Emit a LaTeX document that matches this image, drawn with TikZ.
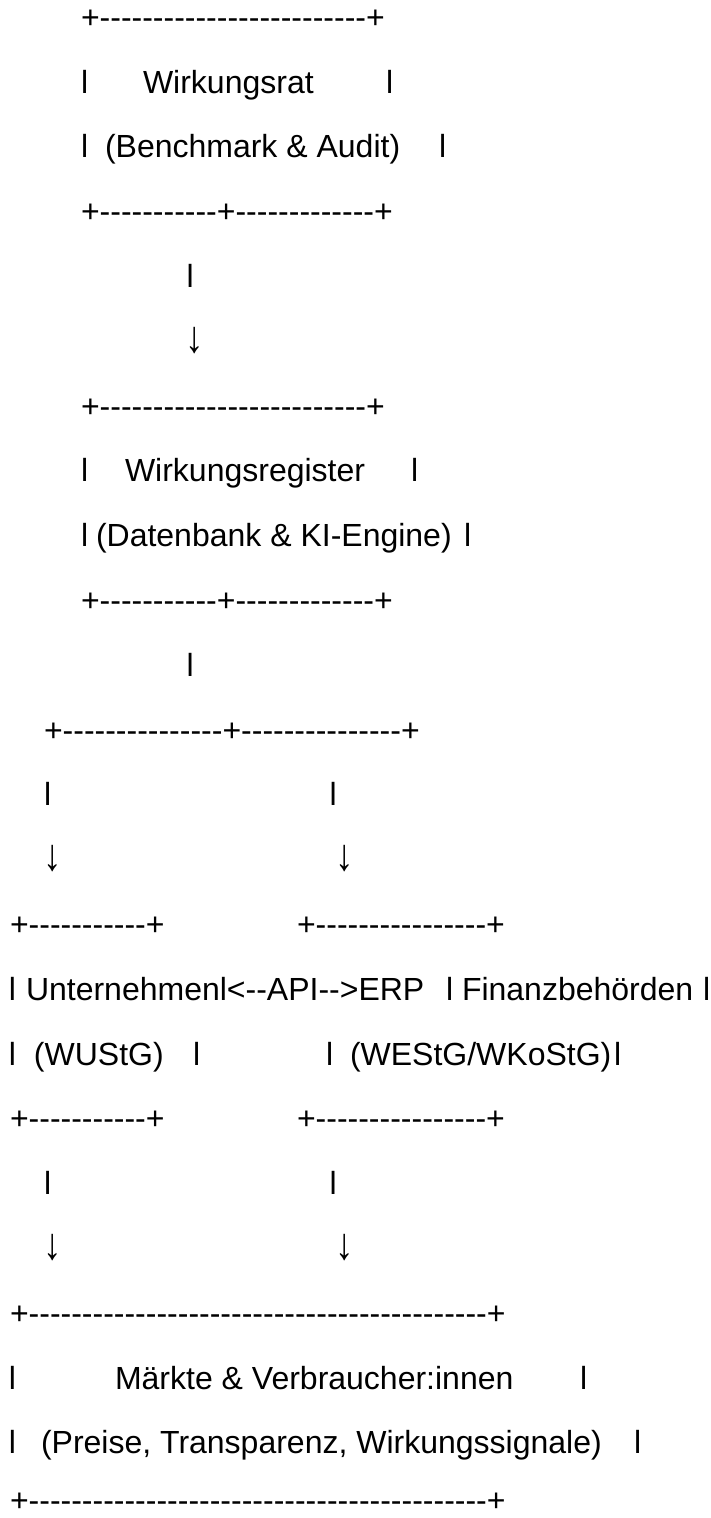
\documentclass[tikz,border=0pt]{standalone}
\usepackage{fontspec}
\newfontfamily\asc{Liberation Sans}
\ExplSyntaxOn
\NewDocumentCommand\dsh{m}{\prg_replicate:nn{#1}{-}}
\ExplSyntaxOff
\newcommand\darr{\scalebox{1.15}[1.4]{↓}}
\tikzset{
  tx/.style={anchor=base west, inner sep=0pt, outer sep=0pt, font=\asc\fontsize{32}{38}\selectfont, text=black},
  tc/.style={anchor=base, inner sep=0pt, outer sep=0pt, font=\asc\fontsize{32}{38}\selectfont, text=black}
}
\begin{document}
\begin{tikzpicture}[x=1pt,y=-1pt]
\useasboundingbox (0,0) rectangle (711,1518);
\fill[white] (0,0) rectangle (711,1518);
% Wirkungsrat box
\node[tx] (r1) at (81,28.3) {+\dsh{25}+};
\node[tx] (r2a) at (81,93.1) {l};
\node[tx] (r2b) at (143,93.1) {Wirkungsrat};
\node[tx] (r2c) at (386,93.1) {l};
\node[tx] (r3a) at (81,157.9) {l};
\node[tx] (r3b) at (105,157.9) {(Benchmark \& Audit)};
\node[tx] (r3c) at (439,157.9) {l};
\node[tx] (r4) at (81,222.7) {+\dsh{11}+\dsh{13}+};
\node[tx] (r5) at (186.5,287.5) {l};
\node[tc] (r6) at (194.5,352.3) {\darr};
% Wirkungsregister box
\node[tx] (g1) at (81,417.1) {+\dsh{25}+};
\node[tx] (g2a) at (81,481.9) {l};
\node[tx] (g2b) at (125,481.9) {Wirkungsregister};
\node[tx] (g2c) at (411,481.9) {l};
\node[tx] (g3a) at (81,546.7) {l};
\node[tx] (g3b) at (96,546.7) {(Datenbank \& KI-Engine)};
\node[tx] (g3c) at (464,546.7) {l};
\node[tx] (g4) at (81,611.5) {+\dsh{11}+\dsh{13}+};
\node[tx] (g5) at (186.5,676.3) {l};
% split
\node[tx] (s1) at (44,741.1) {+\dsh{15}+\dsh{15}+};
\node[tx] (s2a) at (44,805.9) {l};
\node[tx] (s2b) at (329.5,805.9) {l};
\node[tc] (s3a) at (52.3,870.7) {\darr};
\node[tc] (s3b) at (344.5,870.7) {\darr};
% Unternehmen / Finanzbehoerden boxes
\node[tx] (u1a) at (10,935.5) {+\dsh{11}+};
\node[tx] (u1b) at (297,935.5) {+\dsh{16}+};
\node[tx] (u2a) at (9,1000.3) {l};
\node[tx] (u2b) at (26,1000.3) {Unternehmenl<--API-->ERP};
\node[tx] (u2c) at (446,1000.3) {l};
\node[tx] (u2d) at (462,1000.3) {Finanzbehörden};
\node[tx] (u2e) at (703,1000.3) {l};
\node[tx] (u3a) at (9,1065.1) {l};
\node[tx] (u3b) at (34,1065.1) {(WUStG)};
\node[tx] (u3c) at (193,1065.1) {l};
\node[tx] (u3d) at (326,1065.1) {l};
\node[tx] (u3e) at (350,1065.1) {(WEStG/WKoStG)};
\node[tx] (u3f) at (614,1065.1) {l};
\node[tx] (u4a) at (10,1129.9) {+\dsh{11}+};
\node[tx] (u4b) at (297,1129.9) {+\dsh{16}+};
\node[tx] (u5a) at (44,1194.7) {l};
\node[tx] (u5b) at (329.5,1194.7) {l};
\node[tc] (u6a) at (52.3,1259.5) {\darr};
\node[tc] (u6b) at (344.5,1259.5) {\darr};
% Maerkte box
\node[tx] (m1) at (10,1324.3) {+\dsh{43}+};
\node[tx] (m2a) at (9,1389.1) {l};
\node[tx] (m2b) at (115,1389.1) {Märkte \& Verbraucher:innen};
\node[tx] (m2c) at (580,1389.1) {l};
\node[tx] (m3a) at (9,1453.9) {l};
\node[tx] (m3b) at (41,1453.9) {(Preise, Transparenz, Wirkungssignale)};
\node[tx] (m3c) at (634,1453.9) {l};
\node[tx] (m4) at (10,1511) {+\dsh{43}+};
\end{tikzpicture}
\end{document}
